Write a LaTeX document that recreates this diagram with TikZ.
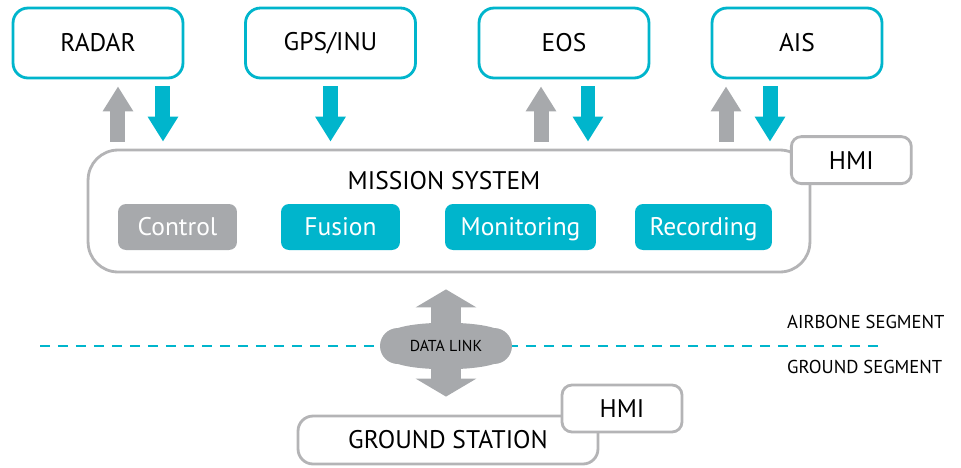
\documentclass[tikz,border=0pt]{standalone}
\usepackage{fontspec}
\setmainfont{PT Sans}
\usetikzlibrary{calc}
\usetikzlibrary{positioning}
\usetikzlibrary{arrows.meta}
\definecolor{lcyan}{RGB}{0,181,204}
\definecolor{lgray}{RGB}{167,169,172}
\definecolor{bgray}{RGB}{180,180,182}
\tikzstyle{sensornode} = [draw=lcyan, line width=1.6pt, rounded corners=0.3cm, fill=white, minimum width=3.4cm, minimum height=1.4cm, font=\fontsize{14.5}{16}\selectfont]
\tikzstyle{boxnode} = [draw=bgray, line width=1.6pt, fill=white, font=\fontsize{14.5}{16}\selectfont]
\tikzstyle{modnode} = [fill=lcyan, text=white, rounded corners=0.16cm, minimum height=0.92cm, text height=10.2pt, text depth=0pt, font=\fontsize{14.5}{16}\selectfont]
\tikzstyle{inarrow} = [draw=lcyan, line width=0.3cm, -{Triangle[width=0.58cm,length=0.5cm]}, shorten <=0.14cm, shorten >=0.14cm]
\tikzstyle{outarrow} = [draw=lgray, line width=0.3cm, -{Triangle[width=0.58cm,length=0.5cm]}, shorten <=0.14cm, shorten >=0.14cm]
\tikzstyle{segtext} = [anchor=west, font=\fontsize{10.6}{12}\selectfont]

\begin{document}
\begin{tikzpicture}[x=0.02cm, y=-0.02cm]
\useasboundingbox (0,0) rectangle (961,467);
% sensors
\node[sensornode] (radar) at (98,43) {RADAR};
\node[sensornode] (gps) at (330.5,43) {GPS/INU};
\node[sensornode] (eos) at (564,43) {EOS};
\node[sensornode] (ais) at (797,43) {AIS};

% mission system
\node[boxnode, rounded corners=0.6cm, minimum width=14.44cm, minimum height=2.44cm] (ms) at (449,211) {};
\node[font=\fontsize{14.5}{16}\selectfont] (mslabel) at (444,181) {MISSION SYSTEM};
\node[boxnode, rounded corners=0.2cm, minimum width=2.4cm, minimum height=0.94cm] (hmi) at ($(ms.north east)+(40,11.5)$) {HMI};
\node[modnode, fill=lgray, minimum width=2.38cm] (control) at (177.5,227) {Control};
\node[modnode, minimum width=2.38cm] (fusion) at (340.5,227) {Fusion};
\node[modnode, minimum width=3.02cm] (monitoring) at (520.5,227) {Monitoring};
\node[modnode, minimum width=2.74cm] (recording) at (703.5,227) {Recording};

\draw[outarrow] ([xshift=0.4cm]radar.south |- ms.north) -- ([xshift=0.4cm]radar.south);
\draw[inarrow] ([xshift=1.3cm]radar.south) -- ([xshift=1.3cm]radar.south |- ms.north);
\draw[inarrow] (gps.south) -- (gps.south |- ms.north);
\draw[outarrow] ([xshift=-0.46cm]eos.south |- ms.north) -- ([xshift=-0.46cm]eos.south);
\draw[inarrow] ([xshift=0.48cm]eos.south) -- ([xshift=0.48cm]eos.south |- ms.north);
\draw[outarrow] ([xshift=-1.42cm]ais.south |- ms.north) -- ([xshift=-1.42cm]ais.south);
\draw[inarrow] ([xshift=-0.54cm]ais.south) -- ([xshift=-0.54cm]ais.south |- ms.north);

% ground station
\node[boxnode, rounded corners=0.3cm, minimum width=6cm, minimum height=0.96cm] (gs) at (448,440) {GROUND STATION};
\node[boxnode, rounded corners=0.2cm, minimum width=2.4cm, minimum height=0.94cm] (hmig) at (622,408.5) {HMI};

% segments
\draw[lcyan, line width=1.4pt, dash pattern=on 0.2cm off 0.16cm] (40,346) -- (880,346);
\node[segtext] (air) at (781,322) {AIRBONE SEGMENT};
\node[segtext] (ground) at (781,367) {GROUND SEGMENT};

% data link
\draw[draw=lgray, line width=0.6cm, {Triangle[width=1.2cm,length=0.36cm]}-{Triangle[width=1.2cm,length=0.36cm]}, shorten <=0.32cm, shorten >=0.36cm] ([xshift=-0.06cm]ms.south) -- ([xshift=-0.06cm]ms.south |- gs.north);
\fill[lgray] (398,328) .. controls (420,321) and (472,321) .. (494,328) arc[start angle=90, end angle=-90, radius=0.36cm] .. controls (472,371) and (420,371) .. (398,364) arc[start angle=270, end angle=90, radius=0.36cm] -- cycle;
\node[font=\fontsize{9}{10}\selectfont] (dl) at (446,346) {DATA LINK};
\end{tikzpicture}
\end{document}
